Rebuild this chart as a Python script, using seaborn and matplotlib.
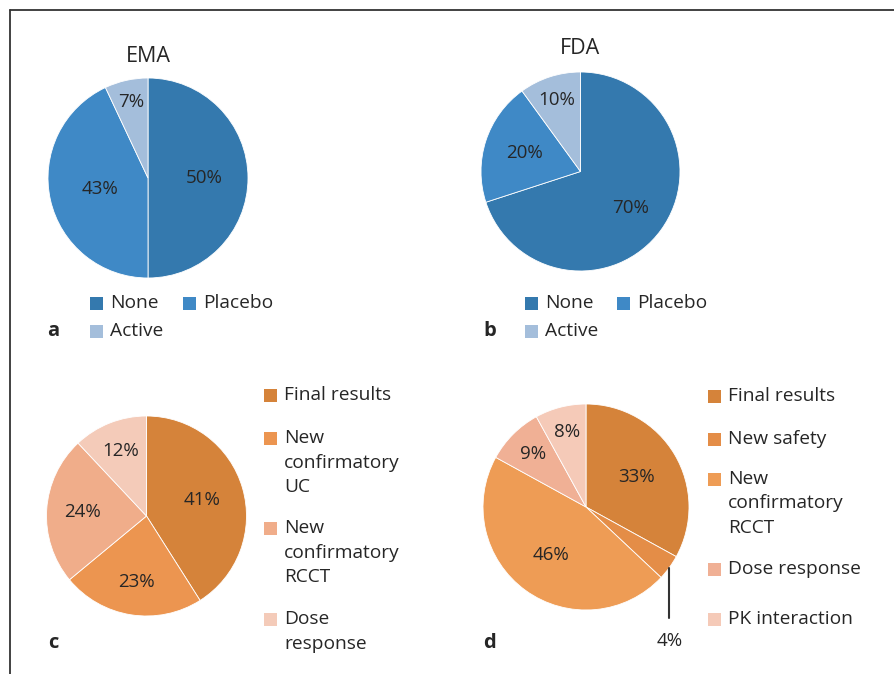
import numpy as np
import matplotlib
matplotlib.use("Agg")
import matplotlib.pyplot as plt
from matplotlib.patches import Rectangle
import seaborn as sns

sns.set_theme(style="white")
plt.rcParams["font.family"] = ["Open Sans", "DejaVu Sans"]

# ---------------- data ----------------
ema_labels = ["None", "Placebo", "Active"]
ema_values = [50, 43, 7]
fda_labels = ["None", "Placebo", "Active"]
fda_values = [70, 20, 10]
blue_colors = ["#3479AE", "#3F89C6", "#A4BEDB"]

c_labels = ["Final results", "New\nconfirmatory\nUC", "New\nconfirmatory\nRCCT", "Dose\nresponse"]
c_values = [41, 23, 24, 12]
c_colors = ["#D5833A", "#EC9550", "#F0AD8A", "#F4CBB9"]

d_labels = ["Final results", "New safety", "New\nconfirmatory\nRCCT", "Dose response", "PK interaction"]
d_values = [33, 4, 46, 9, 8]
d_colors = ["#D5833A", "#E48D47", "#EE9C55", "#F0B095", "#F5CAB8"]

TXT = "#262626"
W, H = 895, 674
fig = plt.figure(figsize=(W / 100, H / 100), dpi=100)

# background axes in pixel coordinates (frame, legends, panel letters)
bg = fig.add_axes([0, 0, 1, 1])
bg.set_xlim(0, W)
bg.set_ylim(H, 0)
bg.axis("off")
bg.plot([10, 10], [10, H], color="#333333", lw=1.3)
bg.plot([10, W], [10, 10], color="#333333", lw=1.3)


def pie_panel(cx, cy, r, values, colors, dists, title=None, title_y=None):
    ax = fig.add_axes([(cx - r) / W, 1 - (cy + r) / H, 2 * r / W, 2 * r / H])
    wedges, _ = ax.pie(values, colors=colors, startangle=90, counterclock=False,
                       radius=1, wedgeprops=dict(edgecolor="white", linewidth=0.6))
    ax.set_xlim(-1, 1)
    ax.set_ylim(-1, 1)
    ax.axis("off")
    total = float(sum(values))
    cum = np.cumsum(values)
    mids = np.deg2rad(90 - 360 * (cum - np.array(values) / 2) / total)
    for v, a, d in zip(values, mids, dists):
        if d is None:
            continue
        ax.text(d * np.cos(a), d * np.sin(a), f"{v}%", ha="center", va="center",
                fontsize=13.5, color=TXT, clip_on=False)
    if title:
        bg.text(cx, title_y, title, ha="center", va="center", fontsize=15.5, color=TXT)
    return ax, mids


def legend_entry(x, y, color, text, spacing=24.7):
    bg.add_patch(Rectangle((x, y - 6.5), 13, 13, facecolor=color, edgecolor="none"))
    for k, line in enumerate(text.split("\n")):
        bg.text(x + 20, y + k * spacing, line, ha="left", va="center",
                fontsize=13.8, color=TXT)


# panel a
pie_panel(148, 178, 100, ema_values, blue_colors, [0.56, 0.49, 0.78], "EMA", 56)
legend_entry(90, 303.5, blue_colors[0], ema_labels[0])
legend_entry(183, 303.5, blue_colors[1], ema_labels[1])
legend_entry(90, 331, blue_colors[2], ema_labels[2])
bg.text(53, 331, "a", ha="center", va="center", fontsize=14.5, fontweight="bold", color=TXT)

# panel b
pie_panel(580.5, 171.5, 99.5, fda_values, blue_colors, [0.62, 0.59, 0.76], "FDA", 48)
legend_entry(525, 303.5, blue_colors[0], fda_labels[0])
legend_entry(617, 303.5, blue_colors[1], fda_labels[1])
legend_entry(525, 331, blue_colors[2], fda_labels[2])
bg.text(490, 331, "b", ha="center", va="center", fontsize=14.5, fontweight="bold", color=TXT)

# panel c
pie_panel(146.5, 516, 100, c_values, c_colors, [0.58, 0.67, 0.64, 0.70])
for y, col, lab in zip([395.5, 438, 528, 619], c_colors, c_labels):
    legend_entry(264, y, col, lab)
bg.text(53, 643, "c", ha="center", va="center", fontsize=14.5, fontweight="bold", color=TXT)

# panel d
axd, mids_d = pie_panel(586, 507, 103, d_values, d_colors, [0.57, None, 0.58, 0.73, 0.75])
i_small = 1
xs, ys = np.cos(mids_d[i_small]), np.sin(mids_d[i_small])
axd.plot([xs, xs], [ys, ys - 0.49], color="#333333", lw=1.5, clip_on=False)
axd.text(xs, ys - 0.71, f"{d_values[i_small]}%", ha="center", va="center",
         fontsize=13.5, color=TXT, clip_on=False)
for y, col, lab in zip([396, 439, 479, 569, 619], d_colors, d_labels):
    legend_entry(708, y, col, lab, spacing=24.5)
bg.text(490, 643, "d", ha="center", va="center", fontsize=14.5, fontweight="bold", color=TXT)

fig.savefig("out.png", dpi=100, facecolor="white")
